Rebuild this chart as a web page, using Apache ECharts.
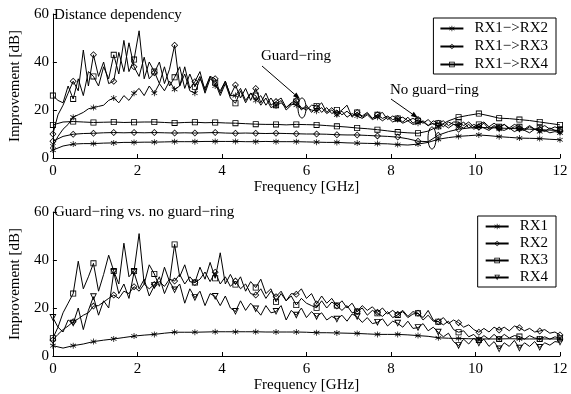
<!DOCTYPE html>
<html>
<head>
<meta charset="utf-8">
<script src="https://cdn.jsdelivr.net/npm/echarts@6/dist/echarts.min.js"></script>
<style>
  html, body { margin: 0; padding: 0; background: #fff; }
  #main { width: 571px; height: 394px; }
</style>
</head>
<body>
<div id="main"></div>
<script>
// frequency grids in GHz: fine = 0.12 GHz step, coarse = 0.24 GHz step
var fine = [];
for (var i = 0; i <= 100; i++) fine.push(+(i * 0.12).toFixed(2));
var coarse = [];
for (var j = 0; j <= 50; j++) coarse.push(+(j * 0.24).toFixed(2));

// top plot, with guard-ring (noisy, fine grid)
var topRx2 = [5,9,12,14,17,18,19,20.5,21,21.5,22,24,25,23,26,24,27,29,26,30,27,31,28,32,28.6,30,35,28,27,33,29,34,30,28,32,26,26,29,24,27,24,26,22,25,21.7,23,21,22.5,22,20.5,21,20,19.5,21,18.5,20,18,19.5,17,18.5,17.5,16.5,18,16,17,15.5,17,15,16,14.5,15.5,14,14.5,15.5,13.5,14.5,13,14,12.5,14,13.5,12.5,14,12,13,12.5,11.5,13,12,11.5,12.5,11,12,11.5,10.5,12,11,11.5,10.5,11,10.5];
var topRx3 = [10,18,22,27,32,28,45,30,43,34,40,31,32,44,36,48,38,34,42,33,35.5,40,31,37,47,30,38,29,31.8,36,28,34,33,27,32,26,30.4,25,29,24,29,23,27,22,23.5,25,21,23,24,20,22,19,21,23,19,21,18.5,20,22,17,19,17.5,19,16.5,18,19,16,17.5,16.5,15,17,14.5,16,15,13.5,15.5,14.5,13,15,14,13.5,15,12.5,14,13,14.5,12,13.5,12.5,14,12,13,12.5,11.5,13,12,12,11,12.5,11.5,11];
var topRx4 = [26,24,23,30,24.6,33,26,36,34,30,38,33,43,35,49,36,41,53,33,40,36,31,38,30,33.6,38,29,35,29.7,34,27,33,31.4,26,31,25,22.8,28,23,27,26,22,25,21,22,24,20,22,23.5,21,20,22,21.7,19,21,18.5,20,18,19.5,17.5,19,17,18.5,16.5,18,16.5,17.5,16,16.5,17,15.5,16.5,15.5,14.5,16,14,14.5,15.5,13.5,15,15,13.5,15,13,14,15,13,14.5,13,14,12.5,14,13,12,13.5,12,12.5,13.5,12,13,12];

// top plot, no guard-ring (smooth, coarse grid)
var topRx2NoGr = [3.3,5,5.8,6,6,6.2,6.3,6.5,6.5,6.6,6.6,6.7,6.8,6.8,6.8,6.9,6.9,6.9,6.9,6.8,6.8,6.9,6.8,6.8,6.8,6.7,6.6,6.5,6.5,6.3,6.2,6.1,6,5.9,5.6,5.4,5.8,6.5,7.8,8.5,9,9.3,9.6,9.3,8.9,8.6,8.3,8.2,8.1,7.8,7.6];
var topRx3NoGr = [7,9,9.9,10.2,10.3,10.5,10.6,10.5,10.6,10.5,10.6,10.5,10.4,10.5,10.4,10.5,10.6,10.4,10.3,10.4,10.3,10.2,10.3,10.2,10.1,10,10,9.9,9.7,9.6,9.6,9.4,9.2,9,8.7,8,7,6.8,9.5,11,12,12.5,12.8,12.6,12.5,12.3,12.2,12,11.8,11.6,11.5];
var topRx4NoGr = [13.8,15,15.2,15,14.8,14.9,15,14.8,14.9,15,15,14.8,14.6,14.8,14.9,14.7,14.8,14.6,14.5,14.3,14.1,14,14,13.8,14,13.9,13.8,13.5,13.2,12.9,12.5,12.2,11.8,11.3,10.8,10.5,10.3,11.2,13.2,15.5,17,17.8,18.5,17.6,16.6,16.4,16,15.6,15,14.4,13.8];

// bottom plot
var botRx1 = [4.3,3.3,4.3,5,6,6.6,7.1,7.7,8.3,8.7,9,9.5,9.9,9.9,9.9,10,10.1,10.1,10.1,10.1,10.1,10,10,10,10,9.9,9.7,9.7,9.6,9.5,9.4,9.2,9,9,9,8.8,8.5,8.2,7.6,7.4,7.3,7.2,7.1,7.1,7.1,7.2,7.1,7.1,7.1,7.1,7.1];
var botRx2 = [6.7,9,11,12.5,14.3,15.5,17,18,20.8,21,22.5,24,25.4,24,27,26,28.9,27,30,28,29.8,31,29,32,31.2,34,30,33,30.6,32,35,31,34.9,30,33,29,31.2,28,30,26,25.4,28,24,27,24.7,27,23,26,25.7,28,24,26,21.7,25,22,24,20.8,23,20,22,18.5,21,19,20.5,18.2,20,17.5,19,17.4,19,16.5,18.5,17.8,16,19,15,14.3,16,13.5,15,13.9,12,13,11,9.9,11.5,10,12,10.8,12,10.5,12.5,11.8,10.5,11.5,10,10.4,11,9.5,10,8.75];
var botRx3 = [7.4,12,18,22,26,39.5,28,33,38.6,27,34,42,35.4,30,47,33,35.4,51,30,38,34.2,29,37,31,46.5,33,38,31,30.6,37,32,39,32.4,43,30,34,29.8,33,27,31,28.5,32,26,28,22.6,26,23,25,21.25,24,22,21,20.1,23,20,22.5,21,19,21,18,18.5,20,17,19,17.8,16.5,18.5,16,17.1,18.5,16,17.5,17.8,15,17,14.5,14.3,13,14.5,11,9.9,10.5,8,9,6.7,8.5,7,9,7.1,9,7.5,8.5,8.1,7,8.5,7.5,7.1,8,7,8,7.4];
var botRx4 = [16,12,10,15,13.6,20,11,19,24.7,17,23,20,34.9,26,30,24,34.9,28,32,25,29.3,33,26,31,27.5,30,22,28,24.3,27,21,26,24.8,21,25,20,18.5,23,19,22,19.6,17,21,18,18.5,21,15,19,17,20,16,18.5,16.4,18,15,16.5,15.3,17,14.5,17.5,16.4,14,16,13.5,14,15.5,12.5,14.5,13.6,12,14.5,11.5,11.8,13.5,10.5,12,9.9,8,9.5,6,4.3,7,5,7.5,5.3,7,4,6,2.9,5.5,4,6.5,3.2,5.5,4,6,3.5,5.5,4.5,6,5.7];

var xTicks = [0, 2, 4, 6, 8, 10, 12];
var yTicks = [0, 20, 40, 60];

var FONT = 'Liberation Serif';
var symStar = 'path://M-0.6,-5L0.6,-5L0.6,-1.04L4.33,-3.5L4.93,-2.46L1.2,0L4.93,2.46L4.33,3.5L0.6,1.04L0.6,5L-0.6,5L-0.6,1.04L-4.33,3.5L-4.93,2.46L-1.2,0L-4.93,-2.46L-4.33,-3.5L-0.6,-1.04Z';
var symDiamond = 'path://M0,-5L5,0L0,5L-5,0Z M0,-3.5L-3.5,0L0,3.5L3.5,0Z';
var symSquare = 'path://M-5,-5L5,-5L5,5L-5,5Z M-3.6,-3.6L-3.6,3.6L3.6,3.6L3.6,-3.6Z';
var symTriDown = 'path://M-5,-4.5L5,-4.5L0,4.5Z M-2.9,-3.3L0,2.1L2.9,-3.3Z';

function pairs(xs, ys) {
    return ys.map(function (v, k) { return [xs[k], v]; });
}

function line(name, idx, xs, ys, symbol, every, size) {
    return {
        name: name,
        type: 'line',
        xAxisIndex: idx,
        yAxisIndex: idx,
        data: pairs(xs, ys),
        symbol: symbol,
        showAllSymbol: true,
        symbolSize: function (v, p) { return p.dataIndex % every === 0 ? size : 0; },
        lineStyle: { color: '#000', width: 1 },
        itemStyle: { color: '#000' },
        silent: true
    };
}

function xAxis(idx) {
    return {
        type: 'value', gridIndex: idx, min: 0, max: 12, interval: 2,
        name: 'Frequency [GHz]', nameLocation: 'middle', nameGap: 20,
        nameTextStyle: { fontFamily: FONT, fontSize: 15, color: '#000' },
        axisLine: { lineStyle: { color: '#000', width: 1 } },
        axisTick: { inside: true, length: 4, lineStyle: { color: '#000' } },
        axisLabel: { fontFamily: FONT, fontSize: 15, color: '#000', margin: 6,
            formatter: function (v) { return xTicks.indexOf(v) > -1 ? v : ''; } },
        splitLine: { show: false }
    };
}

function yAxis(idx) {
    return {
        type: 'value', gridIndex: idx, min: 0, max: 60, interval: 20,
        name: 'Improvement [dB]', nameLocation: 'middle', nameGap: 21,
        nameTextStyle: { fontFamily: FONT, fontSize: 15, color: '#000' },
        axisLine: { show: true, lineStyle: { color: '#000', width: 1 } },
        axisTick: { show: true, inside: true, length: 4, lineStyle: { color: '#000' } },
        axisLabel: { fontFamily: FONT, fontSize: 15, color: '#000', margin: 4,
            formatter: function (v) { return yTicks.indexOf(v) > -1 ? v : ''; } },
        splitLine: { show: false }
    };
}

function legend(names, top, right, pad, gap) {
    return {
        data: names, orient: 'vertical', top: top, right: right,
        padding: pad, itemGap: gap, itemWidth: 23, itemHeight: 7,
        borderColor: '#000', borderWidth: 1, backgroundColor: '#fff',
        selectedMode: false,
        textStyle: { fontFamily: FONT, fontSize: 15, color: '#000', lineHeight: 15, padding: [0, 0, 0, 6] }
    };
}

function arrow(x1, y1, x2, y2) {
    var dx = x2 - x1, dy = y2 - y1, len = Math.sqrt(dx * dx + dy * dy);
    var ux = dx / len, uy = dy / len, hl = 7, hw = 2.6;
    var bx = x2 - ux * hl, by = y2 - uy * hl;
    return [
        { type: 'line', shape: { x1: x1, y1: y1, x2: bx, y2: by }, style: { stroke: '#000', lineWidth: 1 } },
        { type: 'polygon', shape: { points: [[x2, y2], [bx - uy * hw, by + ux * hw], [bx + uy * hw, by - ux * hw]] }, style: { fill: '#000' } }
    ];
}

var textStyle = { fontFamily: FONT, fontSize: 15, fontWeight: 'normal', color: '#000' };

var myChart = echarts.init(document.getElementById('main'));
var option = {
    animation: false,
    backgroundColor: '#fff',
    title: [
        { text: 'Distance dependency', left: 54, top: 8, padding: 0, textStyle: textStyle },
        { text: 'Guard\u2212ring vs. no guard\u2212ring', left: 54, top: 205, padding: 0, textStyle: textStyle }
    ],
    grid: [
        { left: 47, top: 14, width: 513, height: 144 },
        { left: 47, top: 212, width: 513, height: 144 }
    ],
    xAxis: [xAxis(0), xAxis(1)],
    yAxis: [yAxis(0), yAxis(1)],
    legend: [
        legend(['RX1\u2212>RX2', 'RX1\u2212>RX3', 'RX1\u2212>RX4'], 18, 15, [3, 8, 2, 6], 3),
        legend(['RX1', 'RX2', 'RX3', 'RX4'], 216, 15, [3, 8, 2, 7], 2)
    ],
    series: [
        line('RX1\u2212>RX2', 0, fine, topRx2, symStar, 4, 6),
        line('RX1\u2212>RX3', 0, fine, topRx3, symDiamond, 4, 7),
        line('RX1\u2212>RX4', 0, fine, topRx4, symSquare, 4, 6),
        line('RX1\u2212>RX2', 0, coarse, topRx2NoGr, symStar, 2, 6),
        line('RX1\u2212>RX3', 0, coarse, topRx3NoGr, symDiamond, 2, 7),
        line('RX1\u2212>RX4', 0, coarse, topRx4NoGr, symSquare, 2, 6),
        line('RX1', 1, coarse, botRx1, symStar, 2, 6),
        line('RX2', 1, fine, botRx2, symDiamond, 4, 7),
        line('RX3', 1, fine, botRx3, symSquare, 4, 6),
        line('RX4', 1, fine, botRx4, symTriDown, 4, 7)
    ],
    graphic: [
        { type: 'text', x: 261, y: 49, style: { text: 'Guard\u2212ring', font: '15px ' + FONT, fill: '#000' } },
        { type: 'text', x: 390, y: 83, style: { text: 'No guard\u2212ring', font: '15px ' + FONT, fill: '#000' } },
        { type: 'ellipse', shape: { cx: 302, cy: 108, rx: 4, ry: 10 }, style: { fill: 'none', stroke: '#000', lineWidth: 1 } },
        { type: 'ellipse', shape: { cx: 432, cy: 138, rx: 4, ry: 11 }, style: { fill: 'none', stroke: '#000', lineWidth: 1 } }
    ].concat(arrow(262, 66, 300, 99), arrow(391, 99, 418, 118))
};

option && myChart.setOption(option);
</script>
</body>
</html>
